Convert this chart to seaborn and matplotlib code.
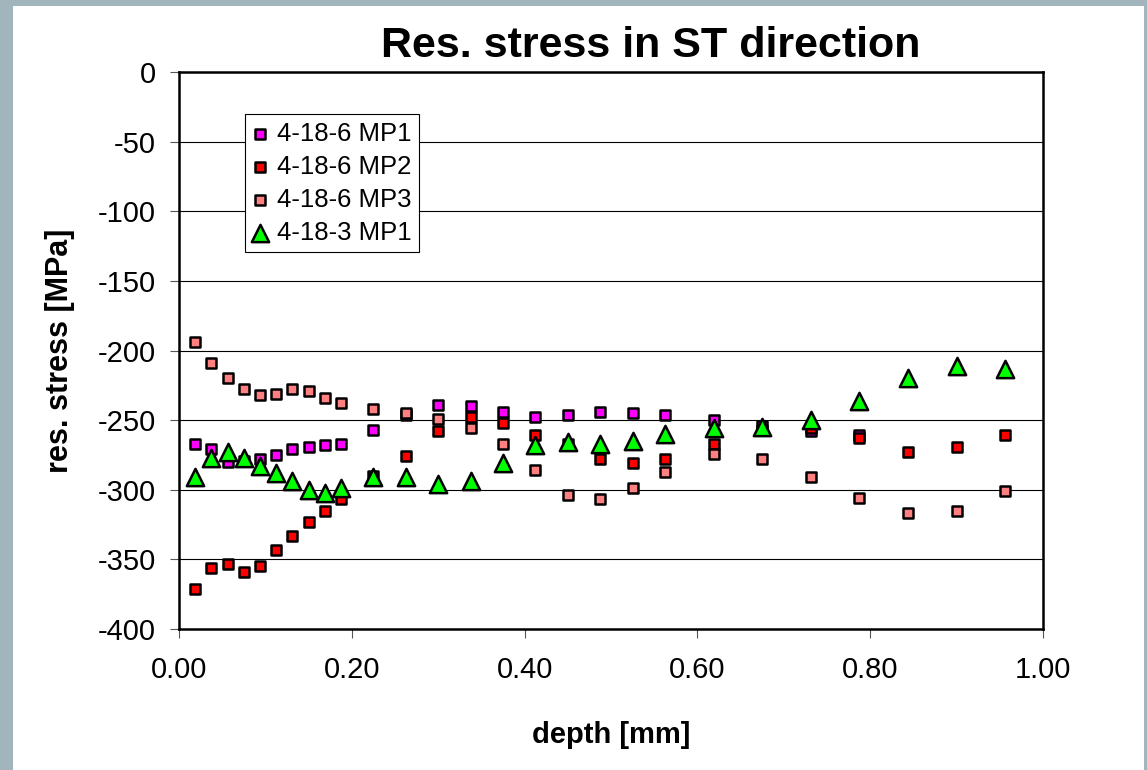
import matplotlib
matplotlib.use("Agg")
import matplotlib.pyplot as plt
from matplotlib.patches import Rectangle
from matplotlib.ticker import FormatStrFormatter
import seaborn as sns

# depth positions [mm]
depth = [0.0188, 0.0375, 0.0563, 0.075, 0.0938, 0.1125, 0.1313, 0.15, 0.1688,
         0.1875, 0.225, 0.2625, 0.3, 0.3375, 0.375, 0.4125, 0.45, 0.4875,
         0.525, 0.5625, 0.6188, 0.675, 0.7313, 0.7875, 0.8438, 0.9, 0.9563]

# residual stress [MPa]
mp1_4186 = [-267, -271, -280, -279, -278, -275, -271, -269, -268, -267,
            -257, -246, -239, -240, -244, -248, -246, -244, -245, -246,
            -250, -254, -258, -261]
mp2_4186 = [-371, -356, -353, -359, -355, -343, -333, -323, -315, -307,
            -290, -276, -258, -248, -252, -261, -267, -278, -281, -278,
            -267, -257, -256, -263, -273, -269, -261]
mp3_4186 = [-194, -209, -220, -228, -232, -231, -228, -229, -234, -238,
            -242, -245, -249, -256, -267, -286, -304, -307, -299, -287,
            -274, -278, -291, -306, -317, -315, -301]
mp1_4183 = [-291, -277, -273, -277, -283, -288, -294, -300, -302, -299,
            -291, -291, -296, -294, -281, -268, -266, -267, -265, -260,
            -256, -255, -250, -236, -220, -211, -213]

series_names = ["4-18-6 MP1", "4-18-6 MP2", "4-18-6 MP3", "4-18-3 MP1"]
series_values = [mp1_4186, mp2_4186, mp3_4186, mp1_4183]
series_colors = ["#FF00FF", "#FF0000", "#FF8080", "#00FF00"]
series_markers = ["s", "s", "s", "^"]
series_sizes = [58, 58, 58, 155]

y_ticks = [0, -50, -100, -150, -200, -250, -300, -350, -400]
x_ticks = [0.0, 0.2, 0.4, 0.6, 0.8, 1.0]

sns.set_theme(style="white")
plt.rcParams["font.family"] = ["Liberation Sans", "DejaVu Sans"]
plt.rcParams["text.color"] = "black"
plt.rcParams["axes.labelcolor"] = "black"
plt.rcParams["xtick.color"] = "black"
plt.rcParams["ytick.color"] = "black"

W, H = 1147, 770
fig = plt.figure(figsize=(W / 100, H / 100), dpi=100)
fig.patch.set_facecolor("#a2b5bc")
fig.add_artist(Rectangle((13 / W, 0), (1144 - 13) / W, (770 - 6) / H,
                         transform=fig.transFigure, facecolor="white",
                         edgecolor="none", zorder=-1))

ax = fig.add_axes([179 / W, 1 - 629 / H, 864 / W, 557 / H])
ax.set_facecolor("white")
ax.set_axisbelow(True)

for name, vals, col, mk, sz in zip(series_names, series_values, series_colors,
                                   series_markers, series_sizes):
    sns.scatterplot(x=depth[:len(vals)], y=vals, ax=ax, marker=mk, color=col,
                    edgecolor="black", linewidth=1.8, s=sz, label=name,
                    zorder=3)

ax.set_xlim(0, 1)
ax.set_ylim(-400, 0)
ax.set_xticks(x_ticks)
ax.set_yticks(y_ticks)
ax.xaxis.set_major_formatter(FormatStrFormatter("%.2f"))
ax.yaxis.set_major_formatter(FormatStrFormatter("%d"))
ax.grid(False)
ax.yaxis.grid(True, color="black", linewidth=0.8)

for side in ["left", "bottom", "top", "right"]:
    ax.spines[side].set_visible(True)
    ax.spines[side].set_color("black")
    ax.spines[side].set_linewidth(1.8)

ax.tick_params(axis="both", direction="out", length=6.5, width=0.8,
               color="#555555", labelsize=21, labelcolor="black")
ax.tick_params(axis="y", pad=10, left=True, right=False)
ax.tick_params(axis="x", pad=13, bottom=True, top=False)

ax.set_xlabel("depth [mm]", fontsize=21, fontweight="bold", va="center",
              color="black")
ax.xaxis.set_label_coords(0.5, -0.19)
ax.set_ylabel("res. stress [MPa]", fontsize=22, fontweight="bold",
              va="center", color="black")
ax.yaxis.set_label_coords(-0.1377, 0.5)

fig.text(651 / W, 1 - 57 / H, "Res. stress in ST direction", fontsize=31,
         fontweight="bold", ha="center", va="baseline", color="black")

leg = ax.legend(loc="upper left", bbox_to_anchor=(245 / W, 1 - 114 / H),
                bbox_transform=fig.transFigure, frameon=True, fancybox=False,
                edgecolor="black", framealpha=1, borderpad=0.3,
                labelspacing=0.35, handlelength=0.6, handletextpad=0.35,
                borderaxespad=0, fontsize=18.5)
leg.get_frame().set_linewidth(0.8)
for txt in leg.get_texts():
    txt.set_color("black")

fig.savefig("out.png", dpi=100, facecolor=fig.get_facecolor())
